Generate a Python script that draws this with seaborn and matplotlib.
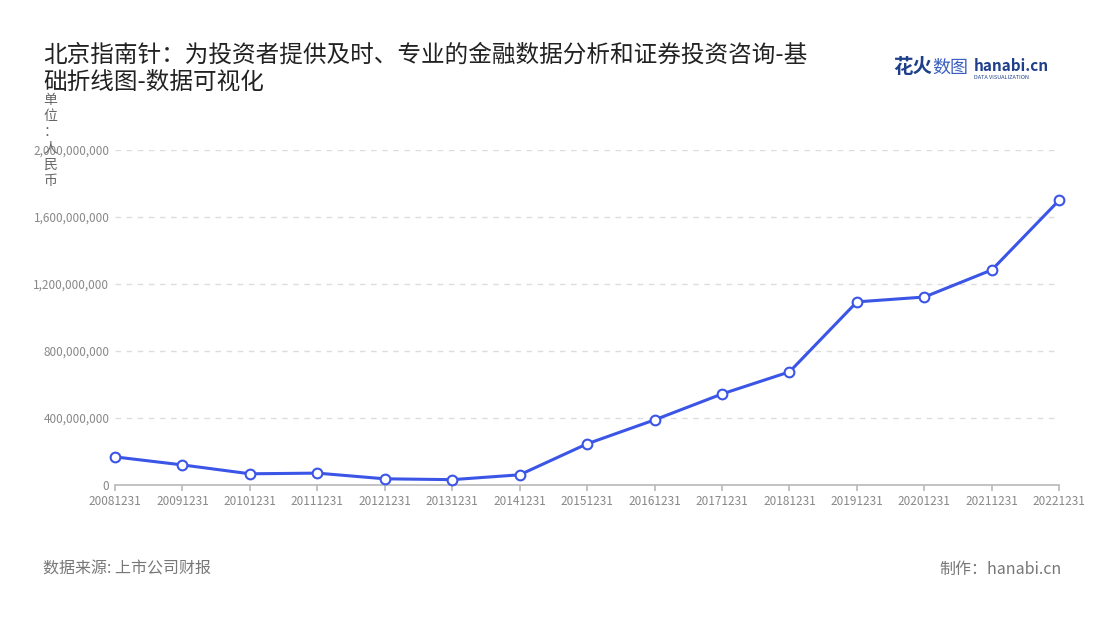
import numpy as np
import pandas as pd
import matplotlib
matplotlib.use("Agg")
import matplotlib.pyplot as plt
import seaborn as sns
from matplotlib.ticker import FuncFormatter

years = ["20081231", "20091231", "20101231", "20111231", "20121231", "20131231",
         "20141231", "20151231", "20161231", "20171231", "20181231", "20191231",
         "20201231", "20211231", "20221231"]
values = [167e6, 119e6, 66e6, 70e6, 36e6, 31e6, 60e6, 245e6, 388e6, 543e6,
          675e6, 1093e6, 1122e6, 1284e6, 1701e6]
yticks = [0, 400e6, 800e6, 1200e6, 1600e6, 2000e6]

df = pd.DataFrame({"idx": range(len(years)), "value": values})

sns.set_theme(style="white")
plt.rcParams['font.family'] = ['Noto Sans CJK SC', 'DejaVu Sans']

fig = plt.figure(figsize=(11, 6.2), dpi=100)
ax = fig.add_axes([0.1045, 0.218, 0.8585, 0.54])

sns.lineplot(data=df, x="idx", y="value", ax=ax, color="#3b55e6", linewidth=2.2,
             marker="o", markersize=7, markerfacecolor="white",
             markeredgecolor="#3b55e6", markeredgewidth=1.5, clip_on=False, zorder=5)

ax.set_xlim(0, len(years) - 1)
ax.set_ylim(0, 2000e6)
ax.set_xticks(range(len(years)))
ax.set_xticklabels(years, fontsize=8.5, color="#888888")
ax.set_yticks(yticks)
ax.yaxis.set_major_formatter(FuncFormatter(lambda v, p: f"{int(v):,}"))
ax.tick_params(axis="y", labelsize=8.5, colors="#888888", length=0, pad=4)
ax.tick_params(axis="x", length=4, color="#bbbbbb", bottom=True)
for t in yticks[1:]:
    ax.axhline(t, color="#dddddd", linestyle=(0, (4, 4)), linewidth=1, zorder=0)
for s in ["top", "right", "left"]:
    ax.spines[s].set_visible(False)
ax.spines["bottom"].set_color("#bbbbbb")
ax.set_xlabel("")
ax.set_ylabel("")

fig.text(0.039, 0.93, "北京指南针：为投资者提供及时、专业的金融数据分析和证券投资咨询-基\n础折线图-数据可视化",
         fontsize=17, color="#222222", va="top", linespacing=1.25)
fig.text(0.046, 0.85, "单\n位\n：\n人\n民\n币", fontsize=10, color="#666666",
         va="top", ha="center", linespacing=1.2)
fig.text(0.039, 0.075, "数据来源: 上市公司财报", fontsize=11.5, color="#777777")
fig.text(0.965, 0.075, "制作：hanabi.cn", fontsize=11.5, color="#777777", ha="right")
fig.text(0.812, 0.883, "花火", fontsize=14, color="#1f3f8a", fontweight="bold")
fig.text(0.848, 0.883, "数图", fontsize=13, color="#3a5fc0")
fig.text(0.885, 0.885, "hanabi.cn", fontsize=11, color="#1f3f8a", fontweight="bold")
fig.text(0.885, 0.872, "DATA VISUALIZATION", fontsize=4, color="#1f3f8a")

fig.savefig("out.png", dpi=100)
